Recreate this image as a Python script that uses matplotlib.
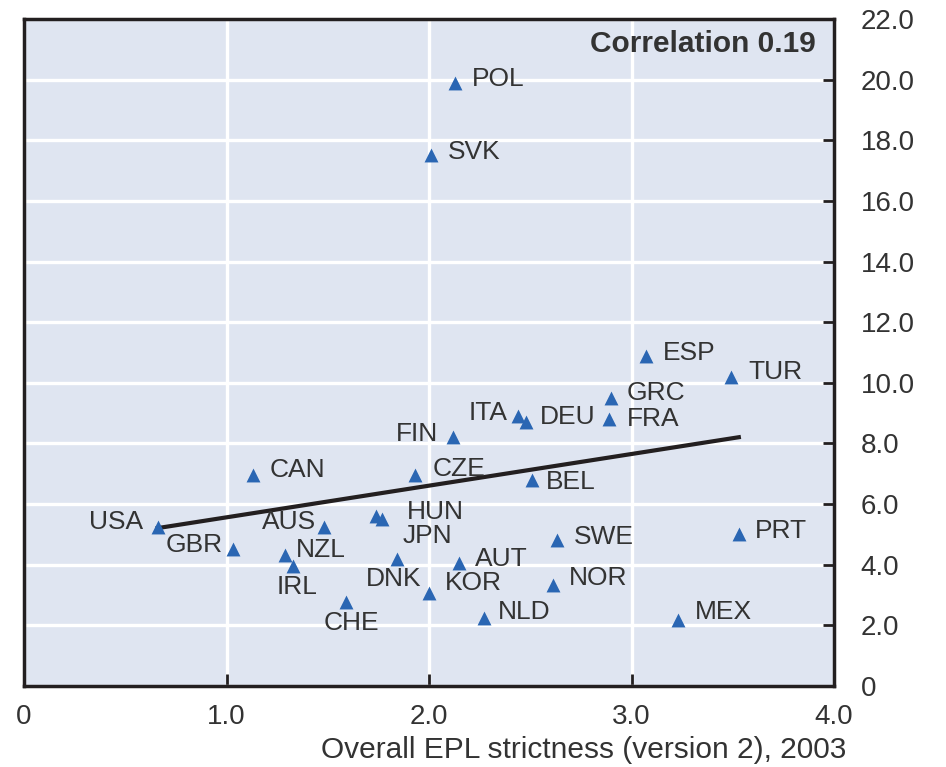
import numpy as np
import matplotlib
matplotlib.use("Agg")
import matplotlib.pyplot as plt

# EPL strictness (x) vs. value (y) per country
countries = ["POL", "SVK", "ESP", "TUR", "GRC", "FRA", "ITA", "DEU", "FIN",
             "CZE", "BEL", "CAN", "HUN", "JPN", "DNK", "KOR", "AUT", "NLD",
             "SWE", "NOR", "PRT", "MEX", "USA", "GBR", "AUS", "NZL", "IRL", "CHE"]
epl = [2.13, 2.01, 3.07, 3.49, 2.90, 2.89, 2.44, 2.48, 2.12,
       1.93, 2.51, 1.13, 1.74, 1.77, 1.84, 2.00, 2.15, 2.27,
       2.63, 2.61, 3.53, 3.23, 0.66, 1.03, 1.48, 1.29, 1.33, 1.59]
value = [19.9, 17.5, 10.9, 10.2, 9.5, 8.8, 8.9, 8.7, 8.2,
         6.97, 6.8, 6.97, 5.6, 5.5, 4.2, 3.07, 4.06, 2.25,
         4.82, 3.34, 5.0, 2.18, 5.25, 4.53, 5.25, 4.33, 3.96, 2.77]

x_ticks = [0, 1.0, 2.0, 3.0, 4.0]
x_tick_labels = ["0", "1.0", "2.0", "3.0", "4.0"]
y_ticks = np.arange(0, 23, 2)
y_tick_labels = ["0"] + ["%.1f" % v for v in y_ticks[1:]]

# label offsets in pixels (dx, dy up), alignment
label_pos = {
    "POL": (17, 4, "left"), "SVK": (17, 3, "left"), "ESP": (17, 3, "left"),
    "TUR": (18, 5, "left"), "GRC": (15, 5, "left"), "FRA": (18, 0, "left"),
    "ITA": (-10, 3, "right"), "DEU": (14, 5, "left"), "FIN": (-15, 3, "right"),
    "CZE": (18, 6, "left"), "BEL": (14, -2, "left"), "CAN": (17, 5, "left"),
    "HUN": (31, 4, "left"), "JPN": (20, -17, "left"), "DNK": (-3, -20, "center"),
    "KOR": (16, 10, "left"), "AUT": (16, 4, "left"), "NLD": (14, 6, "left"),
    "SWE": (17, 3, "left"), "NOR": (16, 7, "left"), "PRT": (16, 3, "left"),
    "MEX": (17, 8, "left"), "USA": (-15, 5, "right"), "GBR": (-10, 4, "right"),
    "AUS": (-8, 5, "right"), "NZL": (11, 5, "left"), "IRL": (4, -21, "center"),
    "CHE": (5, -21, "center"),
}

BG = "#dfe5f1"
BLUE = "#2a66b3"
TXT = "#333333"

plt.rcParams["font.family"] = ["Liberation Sans", "DejaVu Sans"]

fig = plt.figure(figsize=(9.46, 7.67), dpi=100)
ax = fig.add_axes([24 / 946, 81 / 767, 810 / 946, 667 / 767])
ax.set_facecolor(BG)

ax.set_xlim(0, 4)
ax.set_ylim(0, 22)
ax.set_xticks(x_ticks)
ax.set_xticklabels(x_tick_labels)
ax.set_yticks(y_ticks)
ax.set_yticklabels(y_tick_labels)
ax.grid(True, color="white", linewidth=2.4)
ax.set_axisbelow(True)

ax.yaxis.tick_right()
ax.tick_params(axis="y", direction="in", length=8, width=2, pad=19,
               labelsize=20, labelcolor=TXT, color="#231f20")
ax.tick_params(axis="x", direction="in", length=9, width=2, pad=13,
               labelsize=20, labelcolor=TXT, color="#231f20")
for t in ax.get_yticklabels():
    t.set_horizontalalignment("left")
for s in ax.spines.values():
    s.set_linewidth(2.5)
    s.set_color("#231f20")

# trend line
x = np.array(epl)
y = np.array(value)
slope, icpt = np.polyfit(x, y, 1)
xl = np.array([x.min(), x.max()])
ax.plot(xl, icpt + slope * xl, color="#231f20", linewidth=3, zorder=3)

ax.scatter(x, y, marker="^", s=100, color=BLUE, linewidths=0, zorder=4)

for c, xi, yi in zip(countries, epl, value):
    dx, dy, ha = label_pos[c]
    ax.annotate(c, (xi, yi), xytext=(dx * 0.72, dy * 0.72),
                textcoords="offset points", ha=ha, va="center",
                fontsize=19, color=TXT, zorder=5)

ax.text(0.977, 0.962, "Correlation 0.19", transform=ax.transAxes,
        ha="right", va="center", fontsize=21.5, fontweight="bold", color=TXT)

fig.text(846 / 946, 1 - 750 / 767, "Overall EPL strictness (version 2), 2003",
         ha="right", va="center", fontsize=21.5, color=TXT)

fig.savefig("out.png", dpi=100)
